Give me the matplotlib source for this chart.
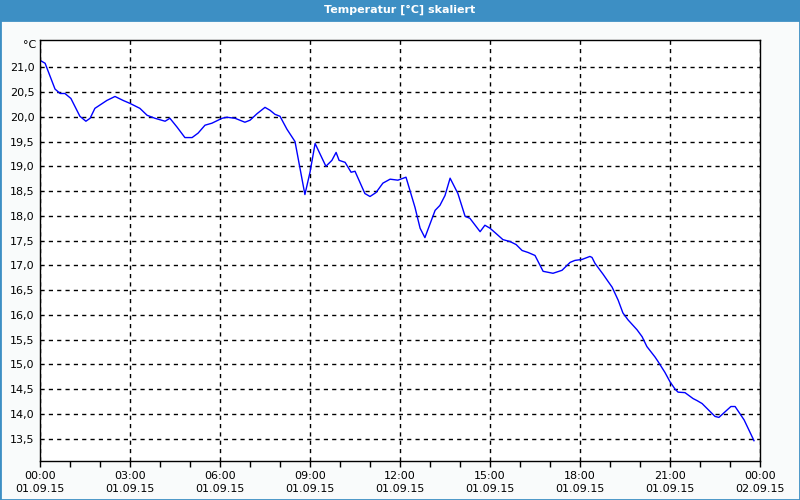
import matplotlib
matplotlib.use("Agg")
import matplotlib.pyplot as plt
from matplotlib.patches import Rectangle
from matplotlib.ticker import MultipleLocator

# hours since 01.09.15 00:00 and temperature readings (°C)
hours = [0.0, 0.17, 0.5, 0.67, 0.83, 1.03, 1.33, 1.53, 1.67, 1.83, 2.23, 2.5, 2.77,
         3.0, 3.33, 3.57, 3.83, 4.17, 4.33, 4.57, 4.83, 5.07, 5.27, 5.5, 5.73, 6.07,
         6.23, 6.5, 6.83, 7.0, 7.23, 7.5, 7.67, 7.83, 8.0, 8.23, 8.5, 8.83, 9.0, 9.17,
         9.53, 9.73, 9.87, 9.97, 10.17, 10.37, 10.5, 10.83, 11.0, 11.2, 11.43, 11.67,
         11.93, 12.2, 12.5, 12.67, 12.83, 13.17, 13.33, 13.5, 13.67, 13.93, 14.17,
         14.33, 14.67, 14.83, 15.0, 15.17, 15.43, 15.67, 15.87, 16.07, 16.27, 16.5,
         16.77, 17.1, 17.4, 17.67, 17.83, 18.07, 18.33, 18.4, 18.5, 18.77, 18.93,
         19.07, 19.27, 19.43, 19.6, 19.9, 20.07, 20.23, 20.5, 20.6, 20.83, 21.0,
         21.17, 21.27, 21.5, 21.77, 21.9, 22.07, 22.5, 22.63, 23.03, 23.17, 23.47,
         23.8]
temps = [21.14, 21.08, 20.56, 20.47, 20.47, 20.37, 20.01, 19.91, 19.97, 20.17,
         20.33, 20.41, 20.33, 20.27, 20.17, 20.03, 19.97, 19.91, 19.97, 19.79,
         19.58, 19.58, 19.67, 19.83, 19.87, 19.97, 19.99, 19.97, 19.89, 19.93,
         20.06, 20.19, 20.13, 20.05, 20.01, 19.75, 19.5, 18.43, 18.88, 19.46,
         19.0, 19.12, 19.28, 19.12, 19.08, 18.88, 18.9, 18.45, 18.39, 18.47,
         18.66, 18.74, 18.72, 18.78, 18.17, 17.75, 17.56, 18.11, 18.21, 18.41,
         18.76, 18.45, 17.99, 17.95, 17.68, 17.81, 17.75, 17.66, 17.52, 17.48,
         17.42, 17.3, 17.26, 17.2, 16.88, 16.84, 16.9, 17.06, 17.1, 17.12, 17.18,
         17.16, 17.04, 16.82, 16.68, 16.56, 16.3, 16.04, 15.9, 15.7, 15.56, 15.36,
         15.15, 15.06, 14.84, 14.65, 14.5, 14.44, 14.43, 14.31, 14.27, 14.21,
         13.95, 13.93, 14.15, 14.15, 13.88, 13.46]

tick_hours = [0, 3, 6, 9, 12, 15, 18, 21, 24]
tick_times = ["00:00", "03:00", "06:00", "09:00", "12:00", "15:00", "18:00", "21:00", "00:00"]
tick_dates = ["01.09.15"] * 8 + ["02.09.15"]
y_ticks = [13.5, 14.0, 14.5, 15.0, 15.5, 16.0, 16.5, 17.0, 17.5, 18.0, 18.5,
           19.0, 19.5, 20.0, 20.5, 21.0]

plt.rcParams["font.family"] = ["DejaVu Sans"]
plt.rcParams["font.size"] = 8

fig = plt.figure(figsize=(8, 5), dpi=100, facecolor="#f9fbfb")
ax = fig.add_axes([0.05, 0.078, 0.90, 0.842])
ax.set_facecolor("white")

ax.plot(hours, temps, color="#0000ff", linewidth=1.0)

ax.set_xlim(0, 24)
ax.set_ylim(13.05, 21.55)

ax.set_xticks(tick_hours)
ax.set_xticklabels([t + "\n" + d for t, d in zip(tick_times, tick_dates)],
                   linespacing=1.45)
ax.xaxis.set_minor_locator(MultipleLocator(1))
ax.tick_params(axis="x", which="both", direction="out", length=4, width=1,
               color="black", pad=3)

ax.set_yticks(y_ticks)
ax.set_yticklabels([("%.1f" % v).replace(".", ",") for v in y_ticks])
ax.tick_params(axis="y", length=0, pad=4)

ax.grid(True, which="major", color="black", linestyle=(0, (3, 3)), linewidth=1)
for s in ax.spines.values():
    s.set_color("black")
    s.set_linewidth(1)

fig.text(0.045, 0.91, "°C", ha="right", va="center", fontsize=8)

# window title bar and frame
fig.add_artist(Rectangle((0, 0.96), 1, 0.04, transform=fig.transFigure,
                         facecolor="#3d8fc4", edgecolor="none"))
fig.text(0.5, 0.98, "Temperatur [°C] skaliert", ha="center", va="center",
         color="white", fontsize=8, fontweight="bold")
fig.add_artist(Rectangle((0, 0), 1, 0.96, transform=fig.transFigure,
                         facecolor="none", edgecolor="#3d8fc4", linewidth=2))

fig.savefig("out.png", dpi=100, facecolor=fig.get_facecolor())
